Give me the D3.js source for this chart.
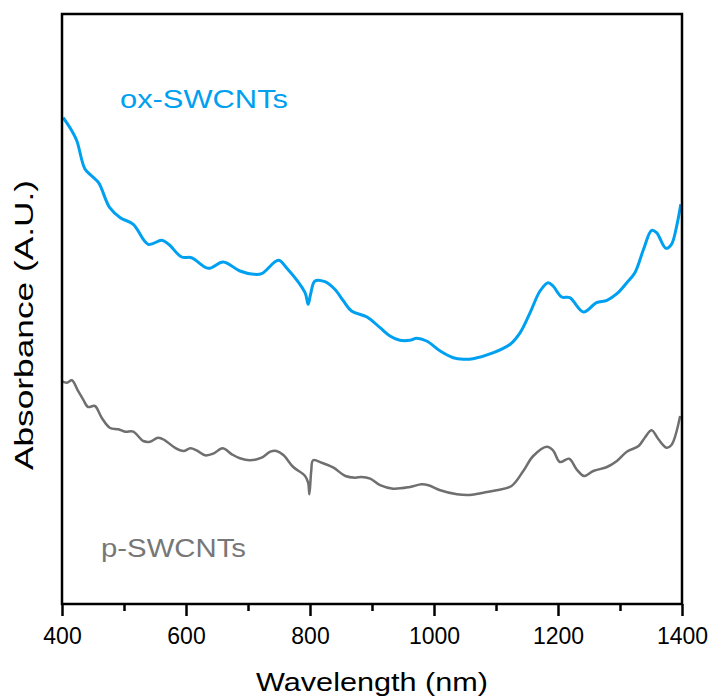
<!DOCTYPE html>
<html>
<head>
<meta charset="utf-8">
<script src="https://cdn.jsdelivr.net/npm/d3@7"></script>
<style>
  body { margin: 0; background: #fff; }
  text { font-family: "Liberation Sans", Arial, sans-serif; }
</style>
</head>
<body>
<div id="chart"></div>
<script>
// spectra (wavelength in nm, absorbance in arbitrary units)
const oxWavelength = [402, 416, 424, 437, 448, 459, 477, 494, 515, 539, 561, 572, 593, 609, 636, 660, 687, 709, 722, 749, 762, 792, 797, 801, 808, 824, 840, 854, 867, 892, 913, 929, 945, 961, 972, 988, 1010, 1031, 1047, 1063, 1096, 1123, 1139, 1155, 1171, 1184, 1192, 1206, 1219, 1241, 1262, 1279, 1295, 1311, 1324, 1338, 1351, 1359, 1374, 1383, 1392, 1398];
const oxAbs = [4.863, 4.73, 4.63, 4.35, 4.28, 4.213, 3.963, 3.863, 3.797, 3.597, 3.637, 3.597, 3.47, 3.463, 3.357, 3.42, 3.33, 3.297, 3.303, 3.437, 3.363, 3.113, 2.997, 3.10, 3.23, 3.223, 3.147, 3.03, 2.93, 2.87, 2.763, 2.68, 2.637, 2.637, 2.657, 2.63, 2.53, 2.463, 2.447, 2.453, 2.513, 2.597, 2.713, 2.913, 3.13, 3.213, 3.18, 3.07, 3.063, 2.92, 3.013, 3.037, 3.103, 3.213, 3.313, 3.547, 3.737, 3.713, 3.557, 3.597, 3.797, 3.997];

const pWavelength = [401, 408, 416, 426, 434, 442, 453, 464, 477, 491, 502, 515, 531, 542, 555, 566, 582, 596, 607, 617, 631, 644, 659, 674, 687, 703, 722, 736, 746, 757, 773, 792, 797, 799, 802, 805, 819, 838, 857, 873, 883, 897, 913, 934, 961, 980, 991, 1010, 1037, 1058, 1080, 1101, 1125, 1144, 1160, 1182, 1192, 1203, 1218, 1230, 1242, 1257, 1279, 1295, 1311, 1330, 1340, 1351, 1362, 1375, 1383, 1397];
const pAbs = [2.223, 2.213, 2.237, 2.13, 2.047, 1.97, 1.98, 1.863, 1.763, 1.747, 1.723, 1.723, 1.63, 1.623, 1.663, 1.637, 1.563, 1.53, 1.557, 1.537, 1.487, 1.503, 1.557, 1.497, 1.457, 1.437, 1.463, 1.523, 1.53, 1.49, 1.37, 1.28, 1.213, 1.097, 1.33, 1.437, 1.413, 1.363, 1.28, 1.263, 1.27, 1.253, 1.188, 1.153, 1.17, 1.197, 1.187, 1.137, 1.097, 1.09, 1.113, 1.137, 1.18, 1.33, 1.48, 1.573, 1.537, 1.42, 1.453, 1.347, 1.28, 1.33, 1.37, 1.43, 1.523, 1.58, 1.663, 1.737, 1.647, 1.563, 1.59, 1.88];

const majorTicks = [400, 600, 800, 1000, 1200, 1400];
const minorTicks = [500, 700, 900, 1100, 1300];
const seriesNames = ["ox-SWCNTs", "p-SWCNTs"];

const WIDTH = 714, HEIGHT = 700;
const MARGINS = {left: 62, right: 32, top: 14, bottom: 96};

const svg = d3.select('#chart').append('svg')
  .attr('width', WIDTH)
  .attr('height', HEIGHT);

const x = d3.scaleLinear().domain([400, 1400]).range([MARGINS.left, WIDTH - MARGINS.right]);
const y = d3.scaleLinear().domain([0, 5.9]).range([HEIGHT - MARGINS.bottom, MARGINS.top]);

// minor ticks first, then major ticks with labels
svg.append('g')
  .attr('transform', `translate(0,${HEIGHT - MARGINS.bottom})`)
  .call(d3.axisBottom(x).tickValues(minorTicks).tickSize(7).tickFormat(''))
  .call(g => g.select('.domain').remove())
  .call(g => g.selectAll('line').attr('stroke', '#000').attr('stroke-width', 2.5));

svg.append('g')
  .attr('transform', `translate(0,${HEIGHT - MARGINS.bottom})`)
  .call(d3.axisBottom(x).tickValues(majorTicks).tickSize(12).tickPadding(12).tickFormat(d3.format('d')))
  .call(g => g.select('.domain').remove())
  .call(g => g.selectAll('line').attr('stroke', '#000').attr('stroke-width', 2.5))
  .call(g => g.selectAll('text').attr('fill', '#000').style('font-size', '23px')
    .style('font-family', '"Liberation Sans", Arial, sans-serif'));

// spectra
const line = d3.line()
  .x(d => x(d[0]))
  .y(d => y(d[1]))
  .curve(d3.curveCatmullRom.alpha(0.5));

svg.append('path')
  .datum(pWavelength.map((w, i) => [w, pAbs[i]]))
  .attr('fill', 'none')
  .attr('stroke', '#6f6f6f')
  .attr('stroke-width', 2.5)
  .attr('stroke-linejoin', 'round')
  .attr('d', line);

svg.append('path')
  .datum(oxWavelength.map((w, i) => [w, oxAbs[i]]))
  .attr('fill', 'none')
  .attr('stroke', '#00a0f0')
  .attr('stroke-width', 3)
  .attr('stroke-linejoin', 'round')
  .attr('d', line);

// frame
svg.append('rect')
  .attr('x', MARGINS.left)
  .attr('y', MARGINS.top)
  .attr('width', WIDTH - MARGINS.left - MARGINS.right)
  .attr('height', HEIGHT - MARGINS.top - MARGINS.bottom)
  .attr('fill', 'none')
  .attr('stroke', '#000')
  .attr('stroke-width', 2.5);

// series labels
svg.append('text')
  .attr('x', 120).attr('y', 108)
  .attr('textLength', 168).attr('lengthAdjust', 'spacingAndGlyphs')
  .style('font-size', '25px').attr('fill', '#00a0f0')
  .text(seriesNames[0]);

svg.append('text')
  .attr('x', 101).attr('y', 557)
  .attr('textLength', 145).attr('lengthAdjust', 'spacingAndGlyphs')
  .style('font-size', '25px').attr('fill', '#777777')
  .text(seriesNames[1]);

// axis titles
svg.append('text')
  .attr('x', 372).attr('y', 691)
  .attr('text-anchor', 'middle')
  .attr('textLength', 232).attr('lengthAdjust', 'spacingAndGlyphs')
  .style('font-size', '26px')
  .text('Wavelength (nm)');

svg.append('text')
  .attr('transform', 'translate(33,325) rotate(-90)')
  .attr('text-anchor', 'middle')
  .attr('textLength', 290).attr('lengthAdjust', 'spacingAndGlyphs')
  .style('font-size', '26px')
  .text('Absorbance (A.U.)');
</script>
</body>
</html>
